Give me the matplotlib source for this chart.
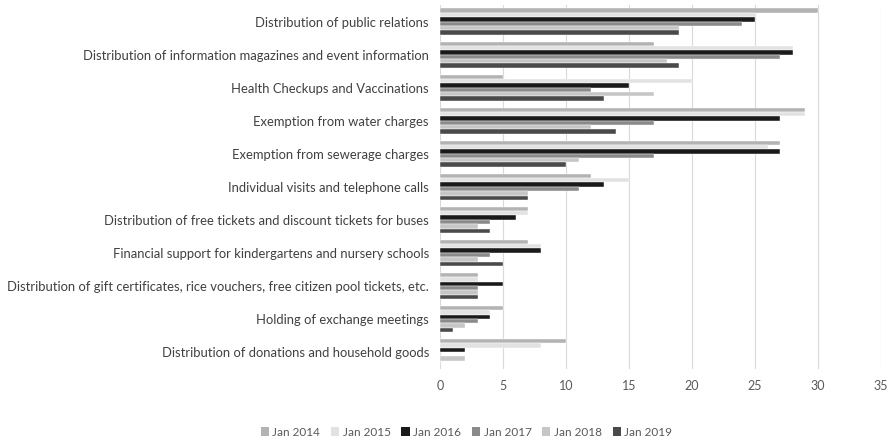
import numpy as np
import matplotlib
matplotlib.use("Agg")
import matplotlib.pyplot as plt
from matplotlib.patches import Patch

plt.rcParams['font.family'] = ['Lato', 'DejaVu Sans']

categories = [
    "Distribution of public relations",
    "Distribution of information magazines and event information",
    "Health Checkups and Vaccinations",
    "Exemption from water charges",
    "Exemption from sewerage charges",
    "Individual visits and telephone calls",
    "Distribution of free tickets and discount tickets for buses",
    "Financial support for kindergartens and nursery schools",
    "Distribution of gift certificates, rice vouchers, free citizen pool tickets, etc.",
    "Holding of exchange meetings",
    "Distribution of donations and household goods",
]

series_names = ["Jan 2014", "Jan 2015", "Jan 2016", "Jan 2017", "Jan 2018", "Jan 2019"]

jan_2014 = [30, 17, 5, 29, 27, 12, 7, 7, 3, 5, 10]
jan_2015 = [25, 28, 20, 29, 26, 15, 7, 8, 3, 4, 8]
jan_2016 = [25, 28, 15, 27, 27, 13, 6, 8, 5, 4, 2]
jan_2017 = [24, 27, 12, 17, 17, 11, 4, 4, 3, 3, 0]
jan_2018 = [19, 18, 17, 12, 11, 7, 3, 3, 3, 2, 2]
jan_2019 = [19, 19, 13, 14, 10, 7, 4, 5, 3, 1, 0]

colors = ["#b3b3b3", "#e2e2e2", "#1a1a1a", "#8a8a8a", "#c6c6c6", "#4a4a4a"]


def main():
    all_series = [jan_2014, jan_2015, jan_2016, jan_2017, jan_2018, jan_2019]

    fig = plt.figure(figsize=(8.92, 4.4), dpi=100)
    ax = fig.add_axes([0.4933, 0.1625, 0.4944, 0.826])

    n_cat = len(categories)
    y = np.arange(n_cat)
    bar_h = 0.132
    offsets = (np.arange(6) - 2.5) * bar_h
    for vals, off, col in zip(all_series, offsets, colors):
        ax.barh(y + off, vals, height=bar_h, color=col, edgecolor='white',
                linewidth=0.3, zorder=2)

    ax.set_ylim(n_cat - 0.5, -0.5)  # first category on top
    ax.set_xlim(0, 35)
    ax.set_xticks(np.arange(0, 36, 5))
    ax.set_yticks(y)
    ax.set_yticklabels(categories, fontsize=9.35, color='#404040')
    ax.tick_params(axis='x', labelsize=9, labelcolor='#595959', length=0, pad=8)
    ax.tick_params(axis='y', length=0, pad=8)
    ax.grid(axis='x', color='#d9d9d9', linewidth=0.8, zorder=0)
    for s in ax.spines.values():
        s.set_visible(False)

    handles = [Patch(facecolor=c, edgecolor='none') for c in colors]
    fig.legend(handles, series_names, loc='center', bbox_to_anchor=(0.523, 0.018),
               ncol=6, frameon=False, fontsize=8.5, handlelength=0.7,
               handleheight=0.7, handletextpad=0.3, columnspacing=0.9,
               labelcolor='#595959')

    fig.savefig('out.png', dpi=100)


if __name__ == '__main__':
    main()
